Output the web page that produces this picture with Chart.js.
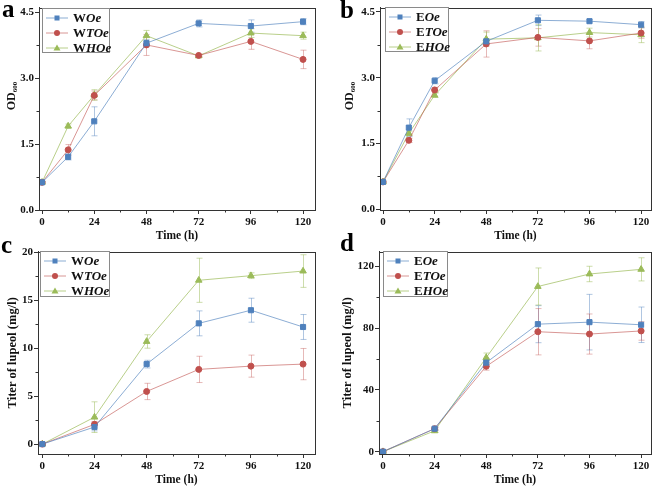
<!DOCTYPE html>
<html>
<head>
<meta charset="UTF-8">
<title>OD600 and lupeol titer</title>
<script src="https://cdn.jsdelivr.net/npm/chart.js"></script>
<style>
    body { margin: 0; background: #fff; font-family: "Liberation Serif", serif; }
    #wrap { position: relative; width: 656px; height: 489px; overflow: hidden; }
    .panel { position: absolute; width: 328px; height: 245px; }
    .panel canvas { position: absolute; left: 0; top: 0; }
    .tag { position: absolute; font: bold 25px/25px "Liberation Serif", serif; color: #000; }
    .ytitle { position: absolute; font: bold 12px "Liberation Serif", serif; color: #111; white-space: nowrap; transform: translate(-50%, -50%) rotate(-90deg); }
    .ytitle sub { font-size: 7px; vertical-align: -2px; }
    .legend { position: absolute; border: 1px solid #8a8a8a; background: #fff; box-sizing: border-box; padding-top: 1px; }
    .legend .row { height: 15px; display: flex; align-items: center; font: bold 13px "Liberation Serif", serif; color: #111; white-space: nowrap; }
    .legend svg { margin: 0 5px 0 3px; flex: none; }
</style>
</head>
<body>
<div id="wrap">
    <div class="panel" style="left:0;top:0"><canvas id="ca" width="328" height="245"></canvas></div>
    <div class="panel" style="left:328px;top:0"><canvas id="cb" width="328" height="245"></canvas></div>
    <div class="panel" style="left:0;top:244px"><canvas id="cc" width="328" height="245"></canvas></div>
    <div class="panel" style="left:328px;top:244px"><canvas id="cd" width="328" height="245"></canvas></div>
</div>

<script>
// time points
const hoursOD = [0, 12, 24, 48, 72, 96, 120];
const hoursTiter = [0, 24, 48, 72, 96, 120];

// series names: plain prefix + italic part
const namesW = [['W', 'Oe'], ['W', 'TOe'], ['W', 'HOe']];
const namesE = [['E', 'Oe'], ['E', 'TOe'], ['E', 'HOe']];

// a: OD600, W strains
const odWO = [0.63, 1.21, 2.02, 3.80, 4.25, 4.19, 4.29];
const odWOErr = [0.02, 0.07, 0.33, 0.08, 0.08, 0.14, 0.07];
const odWTO = [0.63, 1.37, 2.61, 3.76, 3.52, 3.84, 3.43];
const odWTOErr = [0.02, 0.12, 0.10, 0.24, 0.03, 0.18, 0.21];
const odWHO = [0.63, 1.91, 2.62, 3.97, 3.51, 4.03, 3.97];
const odWHOErr = [0.02, 0.05, 0.12, 0.12, 0.03, 0.10, 0.08];

// b: OD600, E strains
const odEO = [0.62, 1.86, 2.93, 3.83, 4.31, 4.29, 4.21];
const odEOErr = [0.02, 0.20, 0.07, 0.05, 0.12, 0.04, 0.07];
const odETO = [0.62, 1.57, 2.72, 3.77, 3.92, 3.84, 4.02];
const odETOErr = [0.02, 0.05, 0.06, 0.30, 0.20, 0.18, 0.12];
const odEHO = [0.62, 1.73, 2.60, 3.88, 3.91, 4.03, 3.98];
const odEHOErr = [0.02, 0.05, 0.05, 0.16, 0.30, 0.10, 0.18];

// c: lupeol titer, W strains
const tiWO = [0, 1.78, 8.34, 12.59, 13.96, 12.21];
const tiWOErr = [0.1, 0.4, 0.4, 1.3, 1.25, 1.3];
const tiWTO = [0, 2.06, 5.49, 7.79, 8.13, 8.34];
const tiWTOErr = [0.1, 0.3, 0.85, 1.37, 1.15, 1.63];
const tiWHO = [0, 2.81, 10.70, 17.08, 17.56, 18.04];
const tiWHOErr = [0.1, 1.6, 0.7, 2.3, 0.3, 1.7];

// d: lupeol titer, E strains
const tiEO = [0, 14.9, 57.7, 82.6, 83.9, 82.2];
const tiEOErr = [0.5, 1.0, 2.5, 12, 18, 11.5];
const tiETO = [0, 14.9, 55.3, 77.7, 76.2, 78.2];
const tiETOErr = [0.5, 1.0, 2.5, 15, 13, 6];
const tiEHO = [0, 13.5, 60.9, 107.0, 115.1, 118.1];
const tiEHOErr = [0.5, 1.0, 3.0, 12, 5, 7.5];

// tick labels
const xTicks = [0, 24, 48, 72, 96, 120];
const odTicks = [0, 1.5, 3.0, 4.5];
const tiWTicks = [0, 5, 10, 15, 20];
const tiETicks = [0, 40, 80, 120];

const styles = [
    { mark: '#4F81BD', line: 'rgba(79,129,189,0.65)', err: 'rgba(79,129,189,0.45)', shape: 'rect', r: 3.6 },
    { mark: '#C0504D', line: 'rgba(192,80,77,0.6)', err: 'rgba(192,80,77,0.4)', shape: 'circle', r: 3 },
    { mark: '#9BBB59', line: 'rgba(155,187,89,0.7)', err: 'rgba(155,187,89,0.5)', shape: 'triangle', r: 3.8 }
];

const serif = '"Liberation Serif", "Times New Roman", serif';

// error bars + frame + minor ticks
const extras = {
    id: 'extras',
    beforeDatasetsDraw(chart) {
        const ctx = chart.ctx, xs = chart.scales.x, ys = chart.scales.y;
        chart.data.datasets.forEach(ds => {
            ctx.save();
            ctx.strokeStyle = ds.errColor;
            ctx.lineWidth = 1;
            ds.data.forEach((p, j) => {
                const e = ds.errors[j];
                const x = Math.round(xs.getPixelForValue(p.x)) + 0.5;
                const y1 = ys.getPixelForValue(p.y - e), y2 = ys.getPixelForValue(p.y + e);
                ctx.beginPath();
                ctx.moveTo(x, y1); ctx.lineTo(x, y2);
                ctx.moveTo(x - 3, y1); ctx.lineTo(x + 3, y1);
                ctx.moveTo(x - 3, y2); ctx.lineTo(x + 3, y2);
                ctx.stroke();
            });
            ctx.restore();
        });
    },
    afterDraw(chart) {
        const ctx = chart.ctx, a = chart.chartArea, xs = chart.scales.x, ys = chart.scales.y;
        const o = chart.options.plugins.extras;
        ctx.save();
        ctx.strokeStyle = '#333';
        ctx.lineWidth = 1;
        ctx.strokeRect(Math.round(a.left) + 0.5, Math.round(a.top) + 0.5, Math.round(a.right - a.left), Math.round(a.bottom - a.top));
        ctx.beginPath();
        o.xMinor.forEach(v => {
            const x = Math.round(xs.getPixelForValue(v)) + 0.5;
            ctx.moveTo(x, a.bottom); ctx.lineTo(x, a.bottom + 2.5);
        });
        o.yMinor.forEach(v => {
            const y = Math.round(ys.getPixelForValue(v)) + 0.5;
            ctx.moveTo(a.left, y); ctx.lineTo(a.left - 2.5, y);
        });
        ctx.stroke();
        ctx.restore();
    }
};

function makePanel(cfg) {
    const datasets = cfg.series.map((vals, i) => ({
        label: cfg.names[i].join(''),
        data: vals.map((v, j) => ({ x: cfg.hours[j], y: v })),
        errors: cfg.errs[i],
        errColor: styles[i].err,
        borderColor: styles[i].line,
        borderWidth: 1,
        pointStyle: styles[i].shape,
        pointRadius: styles[i].r,
        pointBackgroundColor: styles[i].mark,
        pointBorderColor: styles[i].mark,
        pointBorderWidth: 1,
        tension: 0
    }));
    const tickFont = { family: serif, size: 11, weight: 'bold' };
    new Chart(document.getElementById(cfg.id), {
        type: 'scatter',
        data: { datasets: datasets.map(d => Object.assign(d, { showLine: true })) },
        plugins: [extras],
        options: {
            responsive: false,
            animation: false,
            devicePixelRatio: 1,
            layout: { padding: { top: cfg.padTop, right: cfg.padRight, left: 0, bottom: 0 } },
            plugins: {
                legend: { display: false },
                tooltip: { enabled: false },
                extras: { xMinor: [12, 36, 60, 84, 108], yMinor: cfg.yMinor }
            },
            scales: {
                x: {
                    type: 'linear', min: cfg.xMin, max: cfg.xMax,
                    afterBuildTicks: s => { s.ticks = xTicks.map(v => ({ value: v })); },
                    afterFit: s => { s.height = 35; },
                    ticks: { font: tickFont, color: '#111', padding: 2, callback: v => String(v) },
                    grid: { drawOnChartArea: false, tickLength: 4, tickColor: '#333' },
                    border: { color: '#333', width: 1 },
                    title: { display: true, text: 'Time (h)', color: '#111', font: { family: serif, size: 11.5, weight: 'bold' }, padding: { top: 0, bottom: 2 } }
                },
                y: {
                    type: 'linear', min: cfg.yMin, max: cfg.yMax,
                    afterBuildTicks: s => { s.ticks = cfg.yTicks.map(v => ({ value: v })); },
                    afterFit: s => { s.width = cfg.yWidth; },
                    ticks: { font: tickFont, color: '#111', padding: 1, callback: v => v.toFixed(cfg.dec) },
                    grid: { drawOnChartArea: false, tickLength: 4, tickColor: '#333' },
                    border: { color: '#333', width: 1 },
                    title: cfg.yTitle ? { display: true, text: cfg.yTitle, color: '#111', font: { family: serif, size: 12.5, weight: 'bold' }, padding: { top: cfg.yTitlePad, bottom: 0 } } : { display: false }
                }
            }
        }
    });

    const panel = document.getElementById(cfg.id).parentNode;
    const tag = document.createElement('div');
    tag.className = 'tag';
    tag.textContent = cfg.tag;
    tag.style.left = cfg.tagPos[0] + 'px';
    tag.style.top = cfg.tagPos[1] + 'px';
    if (cfg.tagAbs) document.getElementById('wrap').appendChild(tag); else panel.appendChild(tag);

    if (cfg.odTitle) {
        const t = document.createElement('div');
        t.className = 'ytitle';
        t.innerHTML = 'OD<sub>600</sub>';
        t.style.left = cfg.odTitle[0] + 'px';
        t.style.top = cfg.odTitle[1] + 'px';
        panel.appendChild(t);
    }

    const lg = document.createElement('div');
    lg.className = 'legend';
    lg.style.left = cfg.legend[0] + 'px';
    lg.style.top = cfg.legend[1] + 'px';
    lg.style.width = cfg.legend[2] + 'px';
    lg.style.height = cfg.legend[3] + 'px';
    cfg.names.forEach((n, i) => {
        const st = styles[i];
        let mk;
        if (st.shape === 'rect') mk = `<rect x="8.5" y="2.5" width="5" height="5" fill="${st.mark}"/>`;
        else if (st.shape === 'circle') mk = `<circle cx="11" cy="5" r="3" fill="${st.mark}"/>`;
        else mk = `<polygon points="11,1.5 14.5,7.5 7.5,7.5" fill="${st.mark}"/>`;
        const row = document.createElement('div');
        row.className = 'row';
        row.innerHTML = `<svg width="22" height="10"><line x1="0" y1="5" x2="22" y2="5" stroke="${st.line}" stroke-width="1"/>${mk}</svg><span>${n[0]}<i>${n[1]}</i></span>`;
        lg.appendChild(row);
    });
    panel.appendChild(lg);
}

makePanel({
    id: 'ca', tag: 'a', tagPos: [2, -4], hours: hoursOD,
    series: [odWO, odWTO, odWHO], errs: [odWOErr, odWTOErr, odWHOErr], names: namesW,
    xMin: -1.4, xMax: 125.5, yMin: 0, yMax: 4.61, yTicks: odTicks, dec: 1,
    yMinor: [0.75, 2.25, 3.75], yWidth: 39, padTop: 5, padRight: 13,
    odTitle: [11, 96], legend: [42, 8, 68, 45]
});
makePanel({
    id: 'cb', tag: 'b', tagPos: [12, -3], hours: hoursOD,
    series: [odEO, odETO, odEHO], errs: [odEOErr, odETOErr, odEHOErr], names: namesE,
    xMin: -1.4, xMax: 124.6, yMin: -0.02, yMax: 4.6, yTicks: odTicks, dec: 1,
    yMinor: [0.75, 2.25, 3.75], yWidth: 52, padTop: 5, padRight: 2,
    odTitle: [21, 96], legend: [57, 7, 64, 45]
});
makePanel({
    id: 'cc', tag: 'c', tagPos: [1, -12], hours: hoursTiter,
    series: [tiWO, tiWTO, tiWHO], errs: [tiWOErr, tiWTOErr, tiWHOErr], names: namesW,
    xMin: -2, xMax: 125.5, yMin: -1.03, yMax: 20.07, yTicks: tiWTicks, dec: 0,
    yMinor: [2.5, 7.5, 12.5, 17.5], yWidth: 38, padTop: 5, padRight: 13,
    yTitle: 'Titer of lupeol (mg/l)', yTitlePad: 5, legend: [40, 7, 70, 46]
});
makePanel({
    id: 'cd', tag: 'd', tagPos: [12, -14], hours: hoursTiter,
    series: [tiEO, tiETO, tiEHO], errs: [tiEOErr, tiETOErr, tiEHOErr], names: namesE,
    xMin: -1.84, xMax: 124.6, yMin: -1.5, yMax: 129.6, yTicks: tiETicks, dec: 0,
    yMinor: [20, 60, 100], yWidth: 51, padTop: 6, padRight: 2,
    yTitle: 'Titer of lupeol (mg/l)', yTitlePad: 12, legend: [55, 7, 65, 46]
});
</script>
</body>
</html>
